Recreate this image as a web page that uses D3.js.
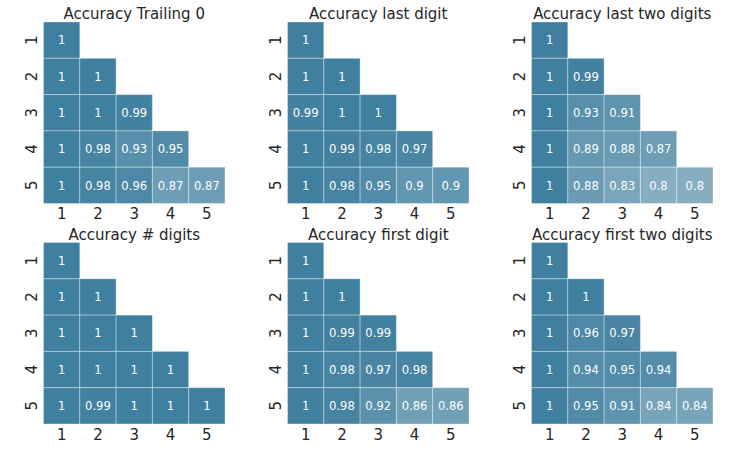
<!DOCTYPE html>
<html>
<head>
<meta charset="utf-8">
<script src="https://cdn.jsdelivr.net/npm/d3@7"></script>
<style>
  body { margin: 0; background: #fff; }
  text { font-family: "DejaVu Sans", sans-serif; }
</style>
</head>
<body>
<div id="chart"></div>
<script>
const lengths = ["1", "2", "3", "4", "5"];

const titles = [
  "Accuracy Trailing 0", "Accuracy last digit", "Accuracy last two digits",
  "Accuracy # digits", "Accuracy first digit", "Accuracy first two digits"
];

// lower triangle, row i holds columns 1..i
const trailingZero = [[1], [1, 1], [1, 1, 0.99], [1, 0.98, 0.93, 0.95], [1, 0.98, 0.96, 0.87, 0.87]];
const lastDigit = [[1], [1, 1], [0.99, 1, 1], [1, 0.99, 0.98, 0.97], [1, 0.98, 0.95, 0.9, 0.9]];
const lastTwoDigits = [[1], [1, 0.99], [1, 0.93, 0.91], [1, 0.89, 0.88, 0.87], [1, 0.88, 0.83, 0.8, 0.8]];
const numDigits = [[1], [1, 1], [1, 1, 1], [1, 1, 1, 1], [1, 0.99, 1, 1, 1]];
const firstDigit = [[1], [1, 1], [1, 0.99, 0.99], [1, 0.98, 0.97, 0.98], [1, 0.98, 0.92, 0.86, 0.86]];
const firstTwoDigits = [[1], [1, 1], [1, 0.96, 0.97], [1, 0.94, 0.95, 0.94], [1, 0.95, 0.91, 0.84, 0.84]];

const panels = [trailingZero, lastDigit, lastTwoDigits, numDigits, firstDigit, firstTwoDigits];

const W = 747, H = 449;
const size = 181.5;
const left0 = 43.5, colStep = 244;
const top0 = 22, rowStep = 220.5;

const color = d3.scaleLinear()
  .domain([0.5, 1])
  .range(["#f2f2f2", "#3f7f9f"])
  .clamp(true);

const svg = d3.select("#chart")
  .append("svg")
  .attr("width", W)
  .attr("height", H);

panels.forEach((rows, p) => {
  const col = p % 3, row = Math.floor(p / 3);
  const g = svg.append("g")
    .attr("transform", `translate(${left0 + col * colStep},${top0 + row * rowStep})`);

  const x = d3.scaleBand().domain(lengths).range([0, size]);
  const y = d3.scaleBand().domain(lengths).range([0, size]);

  const cells = [];
  rows.forEach((vals, i) => vals.forEach((v, j) => cells.push({ r: lengths[i], c: lengths[j], v })));

  g.selectAll(".cell")
    .data(cells)
    .enter()
    .append("rect")
    .attr("class", "cell")
    .attr("x", d => x(d.c))
    .attr("y", d => y(d.r))
    .attr("width", x.bandwidth())
    .attr("height", y.bandwidth())
    .attr("fill", d => color(d.v))
    .attr("stroke", "rgba(255,255,255,0.35)")
    .attr("stroke-width", 1);

  g.selectAll(".annot")
    .data(cells)
    .enter()
    .append("text")
    .attr("class", "annot")
    .attr("x", d => x(d.c) + x.bandwidth() / 2)
    .attr("y", d => y(d.r) + y.bandwidth() / 2)
    .attr("dy", "0.36em")
    .attr("text-anchor", "middle")
    .attr("fill", "#fff")
    .style("font-size", "11.6px")
    .text(d => d3.format("~g")(d.v));

  // x ticks
  g.selectAll(".xtick")
    .data(lengths)
    .enter()
    .append("text")
    .attr("x", d => x(d) + x.bandwidth() / 2)
    .attr("y", size + 15.8)
    .attr("text-anchor", "middle")
    .attr("fill", "#262626")
    .style("font-size", "15px")
    .text(d => d);

  // y ticks, rotated
  g.selectAll(".ytick")
    .data(lengths)
    .enter()
    .append("text")
    .attr("transform", d => `translate(-6.6,${y(d) + y.bandwidth() / 2}) rotate(-90)`)
    .attr("text-anchor", "middle")
    .attr("fill", "#262626")
    .style("font-size", "15px")
    .text(d => d);

  g.append("text")
    .attr("x", size / 2)
    .attr("y", -2.6)
    .attr("text-anchor", "middle")
    .attr("fill", "#262626")
    .style("font-size", "15px")
    .text(titles[p]);
});
</script>
</body>
</html>
